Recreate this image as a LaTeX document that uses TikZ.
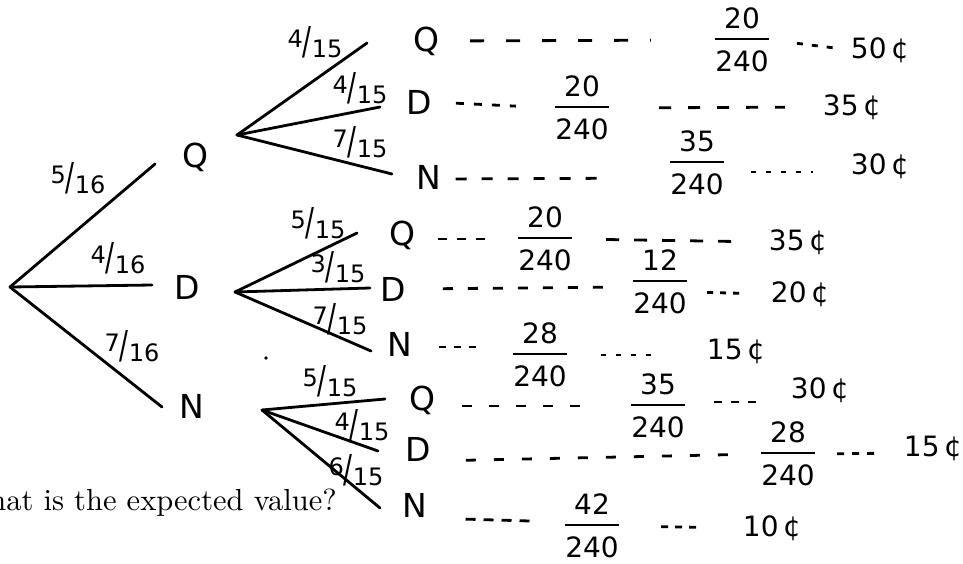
\documentclass[tikz,border=0pt]{standalone}
\usepackage{fontspec}
\usepackage{amsmath}
\usepackage{graphicx}
\newfontfamily\hw{DejaVu Sans}
\newcommand\brl[2]{\raisebox{0.3em}{#1}\scalebox{1.1}[1.6]{/}\raisebox{-0.12em}{#2}}
\newcommand\hfr[2]{$\genfrac{}{}{2.4pt}{0}{\hbox{#1}}{\hbox{\rule{0pt}{0.86em}#2}}$}
\tikzset{
  br/.style={line width=2.8pt, line cap=round},
  dl/.style={line width=2.8pt},
  let/.style={inner sep=0pt, font=\hw\fontsize{33}{35}\selectfont},
  lab/.style={inner sep=0pt, font=\hw\fontsize{24}{26}\selectfont},
  fr/.style={inner sep=0pt, font=\hw\fontsize{28}{30}\selectfont},
  ct/.style={inner sep=0pt, font=\hw\fontsize{28}{30}\selectfont},
}
\begin{document}
\begin{tikzpicture}[x=1pt,y=-1pt]
\clip (0,0) rectangle (963,563);
\fill[white] (0,0) rectangle (963,563);

% vertices and branch ends
\coordinate (r) at (10,287);
\coordinate (vq) at (237,135);
\coordinate (vd) at (235,292);
\coordinate (vn) at (262,410);
\coordinate (e1) at (155,164);
\coordinate (e2) at (152,285);
\coordinate (e3) at (162,407);
\coordinate (eqq) at (367,43);
\coordinate (eqd) at (380,107);
\coordinate (eqn) at (392,174);
\coordinate (edq) at (357,233);
\coordinate (edd) at (370,288);
\coordinate (edn) at (371,351);
\coordinate (enq) at (385,399);
\coordinate (end) at (378,451);
\coordinate (enn) at (380,508);

\draw[br] (r) -- (e1);
\draw[br] (r) -- (e2);
\draw[br] (r) -- (e3);
\draw[br] (vq) -- (eqq);
\draw[br] (vq) -- (eqd);
\draw[br] (vq) -- (eqn);
\draw[br] (vd) -- (edq);
\draw[br] (vd) -- (edd);
\draw[br] (vd) -- (edn);
\draw[br] (vn) -- (enq);
\draw[br] (vn) -- (end);
\draw[br] (vn) -- (enn);

% branch labels
\node[lab] (l1) at (78,178) {\brl{5}{16}};
\node[lab] (l2) at (118,258) {\brl{4}{16}};
\node[lab] (l3) at (132,346) {\brl{7}{16}};
\node[lab] (l4) at (315,42) {\brl{4}{15}};
\node[lab] (l5) at (360,88) {\brl{4}{15}};
\node[lab] (l6) at (360,142) {\brl{7}{15}};
\node[lab] (l7) at (318,223) {\brl{5}{15}};
\node[lab] (l8) at (338,267) {\brl{3}{15}};
\node[lab] (l9) at (340,319) {\brl{7}{15}};
\node[lab] (l10) at (330,381) {\brl{5}{15}};
\node[lab] (l11) at (362,425) {\brl{4}{15}};
\node[lab] (l12) at (356,470) {\brl{6}{15}};

% letters
\node[let] (q1) at (195,157) {Q};
\node[let] (d1) at (187,287) {D};
\node[let] (n1) at (192,406) {N};
\node[let] (qq) at (426,41) {Q};
\node[let] (qd) at (419,102) {D};
\node[let] (qn) at (429,177) {N};
\node[let] (dq) at (402,235) {Q};
\node[let] (dd) at (393,289) {D};
\node[let] (dn) at (400,344) {N};
\node[let] (nq) at (422,400) {Q};
\node[let] (nd) at (418,449) {D};
\node[let] (nn) at (415,505) {N};

% fractions
\node[fr] (f1) at (742,40) {\hfr{20}{240}};
\node[fr] (f2) at (582,108) {\hfr{20}{240}};
\node[fr] (f3) at (697,163) {\hfr{35}{240}};
\node[fr] (f4) at (545,239) {\hfr{20}{240}};
\node[fr] (f5) at (660,282) {\hfr{12}{240}};
\node[fr] (f6) at (540,355) {\hfr{28}{240}};
\node[fr] (f7) at (658,406) {\hfr{35}{240}};
\node[fr] (f8) at (788,454) {\hfr{28}{240}};
\node[fr] (f9) at (592,526) {\hfr{42}{240}};

% cents
\node[ct] (c1) at (880,50) {50\,¢};
\node[ct] (c2) at (852,107) {35\,¢};
\node[ct] (c3) at (880,166) {30\,¢};
\node[ct] (c4) at (798,242) {35\,¢};
\node[ct] (c5) at (800,294) {20\,¢};
\node[ct] (c6) at (736,351) {15\,¢};
\node[ct] (c7) at (820,390) {30\,¢};
\node[ct] (c8) at (933,448) {15\,¢};
\node[ct] (c9) at (772,528) {10\,¢};

% dashed connectors
\draw[dl, dash pattern=on 14pt off 22pt, shorten <=31pt, shorten >=63pt] (qq.east) -- (f1.west);
\draw[dl, dash pattern=on 6pt off 9pt, shorten <=27pt, shorten >=18pt] (f1.east) -- (c1.west);
\draw[dl, dash pattern=on 8pt off 10pt, shorten <=24pt, shorten >=38pt] (qd.east) -- (f2.west);
\draw[dl, dash pattern=on 12pt off 17pt, shorten <=49pt, shorten >=38pt] (f2.east) -- (c2.west);
\draw[dl, dash pattern=on 11pt off 15pt, shorten <=14pt, shorten >=58pt] ([yshift=-2pt]qn.east) -- ([yshift=-15pt]f3.west);
\draw[dl, dash pattern=on 5pt off 10pt, shorten <=26pt, shorten >=38pt] ([yshift=-9pt]f3.east) -- ([yshift=-6pt]c3.west);
\draw[dl, dash pattern=on 9pt off 10pt, shorten <=23pt, shorten >=31pt] ([yshift=-4pt]dq.east) -- (f4.west);
\draw[dl, dash pattern=on 13pt off 15pt, shorten <=33pt, shorten >=36pt] (f4.east) -- (c4.west);
\draw[dl, dash pattern=on 10pt off 15pt, shorten <=37pt, shorten >=29pt] (dd.east) -- ([yshift=-5pt]f5.west);
\draw[dl, dash pattern=on 6pt off 7pt, shorten <=19pt, shorten >=29pt] ([yshift=-10pt]f5.east) -- (c5.west);
\draw[dl, dash pattern=on 7pt off 8pt, shorten <=26pt, shorten >=33pt] ([yshift=-3pt]dn.east) -- ([yshift=8pt]f6.west);
\draw[dl, dash pattern=on 5pt off 10pt, shorten <=33pt, shorten >=52pt] (f6.east) -- ([yshift=-4pt]c6.west);
\draw[dl, dash pattern=on 10pt off 17pt, shorten <=27pt, shorten >=34pt] ([yshift=-6pt]nq.east) -- (f7.west);
\draw[dl, dash pattern=on 8pt off 9pt, shorten <=28pt, shorten >=34pt] ([yshift=4pt]f7.east) -- ([yshift=-12pt]c7.west);
\draw[dl, dash pattern=on 10pt off 18pt, shorten <=35pt, shorten >=26pt] ([yshift=-12pt]nd.east) -- (f8.west);
\draw[dl, dash pattern=on 7pt off 8pt, shorten <=21pt, shorten >=29pt] (f8.east) -- ([yshift=-5pt]c8.west);
\draw[dl, dash pattern=on 10pt off 8pt, shorten <=38pt, shorten >=30pt] ([yshift=-13pt]nn.east) -- ([yshift=4pt]f9.west);
\draw[dl, dash pattern=on 7pt off 7pt, shorten <=41pt, shorten >=41pt] (f9.east) -- (c9.west);

% stray mark
\fill (266,358) circle (1.8pt);

% question text (cut at the left edge)
\node[inner sep=0pt, anchor=base east] (qtext) at (337,510) {\scalebox{3.05}{What is the expected value?}};
\end{tikzpicture}
\end{document}
